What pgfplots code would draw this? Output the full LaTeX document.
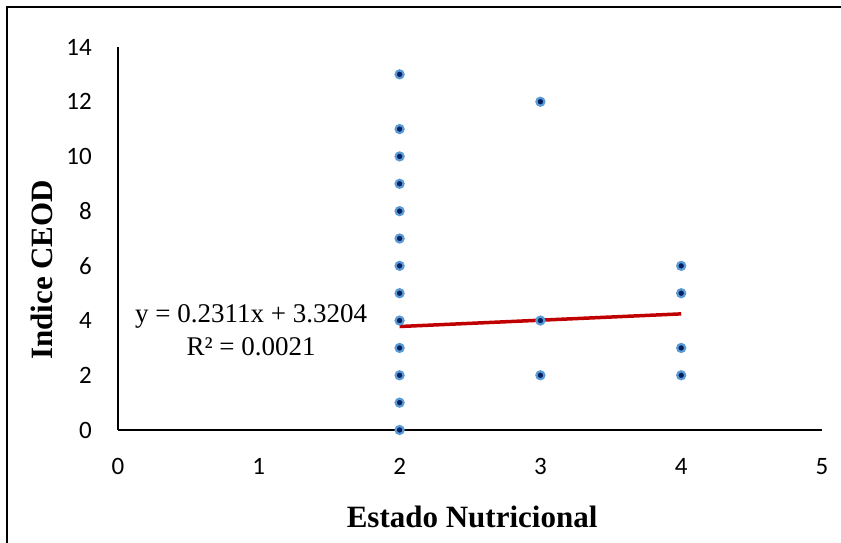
\documentclass[border=0pt]{standalone}
\usepackage{pgfplots}
\pgfplotsset{compat=1.18}
\usepackage{fontspec}
\setmainfont{Liberation Serif}
\newfontfamily\tickfont{Carlito}
\definecolor{trendred}{RGB}{192,0,0}
\definecolor{markfill}{RGB}{0,32,96}
\definecolor{markedge}{RGB}{91,155,213}
\begin{document}
\begin{tikzpicture}
\begin{axis}[
  scale only axis,
  width=704pt, height=383pt,
  xmin=0, xmax=5, ymin=0, ymax=14,
  xtick={0,1,2,3,4,5}, ytick={0,2,4,6,8,10,12,14},
  axis lines=left,
  axis line style={-, line width=1.3pt, black},
  major tick length=0pt,
  clip=false,
  /pgf/number format/assume math mode=true,
  tick label style={font=\fontsize{25}{29}\selectfont\tickfont, inner sep=0pt},
  xticklabel style={anchor=north, yshift=-28pt},
  yticklabel style={anchor=east, xshift=-26pt},
  xlabel={\textbf{Estado Nutricional}},
  ylabel={\textbf{Indice CEOD}},
  label style={font=\fontsize{31}{36}\selectfont},
  xlabel style={at={(axis description cs:0.503,-0.227)}, anchor=center},
  ylabel style={at={(axis description cs:-0.108,0.418)}, anchor=center, rotate=0},
]
\addplot[only marks, mark=*, mark size=4pt,
  mark options={fill=markfill, draw=markedge, line width=2.2pt}]
  coordinates {
  (2,0) (2,1) (2,2) (2,3) (2,4) (2,5) (2,6) (2,7) (2,8) (2,9) (2,10) (2,11) (2,13)
  (3,2) (3,4) (3,12)
  (4,2) (4,3) (4,5) (4,6)
  };
\addplot[trendred, line width=3.5pt] coordinates {(2,3.7826) (4,4.2448)};
\node[align=center, font=\fontsize{27}{33}\selectfont, inner sep=0pt] at (axis cs:0.945,3.64)
  {y = 0.2311x + 3.3204\\R² = 0.0021};
\end{axis}
\path[use as bounding box] ([xshift=-118pt,yshift=-112pt]current axis.south west) rectangle ([xshift=19pt,yshift=47pt]current axis.north east);
\draw[line width=2.5pt, black] ([xshift=-111pt,yshift=-120pt]current axis.south west) -- ([xshift=-111pt,yshift=40pt]current axis.north west) -- ([xshift=30pt,yshift=40pt]current axis.north east);
\end{tikzpicture}
\end{document}
